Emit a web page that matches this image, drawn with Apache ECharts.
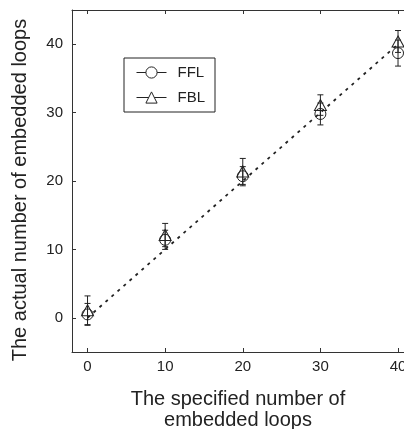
<!DOCTYPE html>
<html>
<head>
<meta charset="utf-8">
<script src="https://cdn.jsdelivr.net/npm/echarts@6/dist/echarts.min.js"></script>
<style>
  html, body { margin: 0; padding: 0; background: #fff; }
  #grafico { width: 404px; height: 429px; }
</style>
</head>
<body>
<div id="grafico"></div>
<script>
// specified number of embedded loops
var specified = [0, 10, 20, 30, 40];
// actual numbers (mean) and error bar half-length
var fflMean = [0.5, 11.4, 20.7, 29.8, 38.7];
var fflErr = [1.6, 1.4, 1.4, 1.6, 1.9];
var fblMean = [1.1, 12.1, 21.4, 31.1, 40.4];
var fblErr = [2.1, 1.7, 1.9, 1.5, 1.6];
// reference line y = x
var fitLine = [[0, 0], [40, 40]];
var ticks = [0, 10, 20, 30, 40];

var myChart = echarts.init(document.getElementById('grafico'));
var ink = '#222';
var font = 'Liberation Sans, Arial, sans-serif';

function pairs(xs, ys) {
  return xs.map(function (x, i) { return [x, ys[i]]; });
}
function errData(xs, ys, es) {
  return xs.map(function (x, i) { return [x, ys[i] - es[i], ys[i] + es[i]]; });
}
function errorBars(params, api) {
  var lo = api.coord([api.value(0), api.value(1)]);
  var hi = api.coord([api.value(0), api.value(2)]);
  var cap = 3;
  var st = { stroke: ink, lineWidth: 1 };
  return {
    type: 'group',
    children: [
      { type: 'line', shape: { x1: lo[0], y1: lo[1], x2: hi[0], y2: hi[1] }, style: st },
      { type: 'line', shape: { x1: lo[0] - cap, y1: lo[1], x2: lo[0] + cap, y2: lo[1] }, style: st },
      { type: 'line', shape: { x1: hi[0] - cap, y1: hi[1], x2: hi[0] + cap, y2: hi[1] }, style: st }
    ]
  };
}

var axisCommon = {
  type: 'value',
  splitLine: { show: false },
  axisLine: { show: true, onZero: false, lineStyle: { color: '#333', width: 1 } },
  axisTick: { show: true, inside: true, length: 4, customValues: ticks, lineStyle: { color: '#333' } },
  axisLabel: { customValues: ticks, color: ink, fontSize: 15, fontFamily: font }
};

var option = {
  animation: false,
  grid: { left: 72, top: 10, right: 0, bottom: 77, outerBoundsMode: 'none', containLabel: false },
  legend: {
    orient: 'vertical',
    left: 124,
    top: 58,
    padding: [7, 10, 7, 12],
    itemGap: 10,
    itemWidth: 30,
    itemHeight: 14,
    borderColor: ink,
    borderWidth: 1,
    borderRadius: 0,
    data: ['FFL', 'FBL'],
    itemStyle: { borderWidth: 1, borderColor: ink, color: '#fff' },
    lineStyle: { color: ink, width: 1, opacity: 1, type: 'solid' },
    textStyle: { color: ink, fontSize: 15, fontFamily: font, padding: [0, 0, 0, 6] }
  },
  graphic: [{
    type: 'text',
    x: 20,
    y: 190,
    rotation: Math.PI / 2,
    style: {
      text: 'The actual number of embedded loops',
      fill: ink,
      font: '20px ' + font,
      textAlign: 'center',
      textVerticalAlign: 'middle'
    }
  }],
  xAxis: [
    Object.assign({}, axisCommon, {
      min: -2, max: 40.77,
      name: 'The specified number of\nembedded loops',
      nameLocation: 'middle',
      nameGap: 37,
      nameTextStyle: { color: ink, fontSize: 20, fontFamily: font, lineHeight: 21 },
      axisLabel: { customValues: ticks, color: ink, fontSize: 15, fontFamily: font, margin: 7 }
    }),
    Object.assign({}, axisCommon, {
      position: 'top',
      min: -2, max: 40.77,
      axisLabel: { show: false }
    })
  ],
  yAxis: Object.assign({}, axisCommon, {
    min: -5, max: 45,
    axisLabel: { customValues: ticks, color: ink, fontSize: 15, fontFamily: font, margin: 9 }
  }),
  series: [
    {
      type: 'line',
      data: fitLine,
      symbol: 'none',
      silent: true,
      lineStyle: { color: ink, width: 1.8, type: [3, 5] },
      z: 1
    },
    {
      type: 'custom',
      data: errData(specified, fflMean, fflErr),
      renderItem: errorBars,
      encode: { x: 0, y: [1, 2] },
      z: 2
    },
    {
      type: 'custom',
      data: errData(specified, fblMean, fblErr),
      renderItem: errorBars,
      encode: { x: 0, y: [1, 2] },
      z: 2
    },
    {
      name: 'FFL',
      type: 'line',
      data: pairs(specified, fflMean),
      symbol: 'circle',
      symbolSize: 11,
      lineStyle: { opacity: 0 },
      itemStyle: { color: 'rgba(255,255,255,0)', borderColor: ink, borderWidth: 1 },
      z: 3
    },
    {
      name: 'FBL',
      type: 'line',
      data: pairs(specified, fblMean),
      symbol: 'triangle',
      symbolSize: [12, 11],
      lineStyle: { opacity: 0 },
      itemStyle: { color: 'rgba(255,255,255,0)', borderColor: ink, borderWidth: 1 },
      z: 3
    }
  ]
};

option && myChart.setOption(option);
</script>
</body>
</html>
